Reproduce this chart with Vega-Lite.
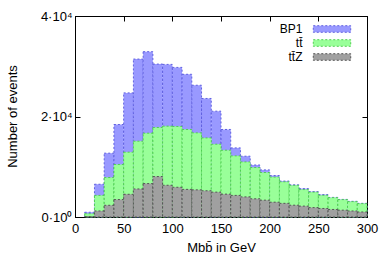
{
  "$schema": "https://vega.github.io/schema/vega-lite/v6.json",
  "width": 292,
  "height": 201,
  "autosize": {"type": "none"},
  "padding": {"left": 75, "top": 16, "right": 25, "bottom": 57},
  "config": {
    "font": "Liberation Sans",
    "view": {"stroke": "black", "strokeWidth": 1},
    "axis": {
      "grid": false,
      "domainColor": "black",
      "tickColor": "black",
      "labelColor": "black",
      "titleColor": "black",
      "labelFontSize": 13,
      "titleFontSize": 13,
      "titleFontWeight": "normal",
      "labelFlush": false,
      "tickSize": -5
    }
  },
  "data": {"values": [
    {"s":"BP1","lo":10,"hi":20,"n":940},{"s":"BP1","lo":20,"hi":30,"n":6520},{"s":"BP1","lo":30,"hi":40,"n":12700},{"s":"BP1","lo":40,"hi":50,"n":18400},{"s":"BP1","lo":50,"hi":60,"n":24700},{"s":"BP1","lo":60,"hi":70,"n":31430},{"s":"BP1","lo":70,"hi":80,"n":32900},{"s":"BP1","lo":80,"hi":90,"n":30430},{"s":"BP1","lo":90,"hi":100,"n":30370},{"s":"BP1","lo":100,"hi":110,"n":29770},{"s":"BP1","lo":110,"hi":120,"n":28400},{"s":"BP1","lo":120,"hi":130,"n":26220},{"s":"BP1","lo":130,"hi":140,"n":23590},{"s":"BP1","lo":140,"hi":150,"n":21060},{"s":"BP1","lo":150,"hi":160,"n":17420},{"s":"BP1","lo":160,"hi":170,"n":13750},{"s":"BP1","lo":170,"hi":180,"n":12100},{"s":"BP1","lo":180,"hi":190,"n":10350},{"s":"BP1","lo":190,"hi":200,"n":9370},{"s":"BP1","lo":200,"hi":210,"n":8250},{"s":"BP1","lo":210,"hi":220,"n":7150},{"s":"BP1","lo":220,"hi":230,"n":6400},{"s":"BP1","lo":230,"hi":240,"n":5650},{"s":"BP1","lo":240,"hi":250,"n":5050},{"s":"BP1","lo":250,"hi":260,"n":4460},{"s":"BP1","lo":260,"hi":270,"n":3900},{"s":"BP1","lo":270,"hi":280,"n":3500},{"s":"BP1","lo":280,"hi":290,"n":3120},{"s":"BP1","lo":290,"hi":300,"n":2720},
    {"s":"tt̄","lo":10,"hi":20,"n":650},{"s":"tt̄","lo":20,"hi":30,"n":4300},{"s":"tt̄","lo":30,"hi":40,"n":7850},{"s":"tt̄","lo":40,"hi":50,"n":10440},{"s":"tt̄","lo":50,"hi":60,"n":12900},{"s":"tt̄","lo":60,"hi":70,"n":15090},{"s":"tt̄","lo":70,"hi":80,"n":16680},{"s":"tt̄","lo":80,"hi":90,"n":17820},{"s":"tt̄","lo":90,"hi":100,"n":18080},{"s":"tt̄","lo":100,"hi":110,"n":18020},{"s":"tt̄","lo":110,"hi":120,"n":17420},{"s":"tt̄","lo":120,"hi":130,"n":16740},{"s":"tt̄","lo":130,"hi":140,"n":15740},{"s":"tt̄","lo":140,"hi":150,"n":14490},{"s":"tt̄","lo":150,"hi":160,"n":13290},{"s":"tt̄","lo":160,"hi":170,"n":12160},{"s":"tt̄","lo":170,"hi":180,"n":10960},{"s":"tt̄","lo":180,"hi":190,"n":9840},{"s":"tt̄","lo":190,"hi":200,"n":8850},{"s":"tt̄","lo":200,"hi":210,"n":7950},{"s":"tt̄","lo":210,"hi":220,"n":7000},{"s":"tt̄","lo":220,"hi":230,"n":6300},{"s":"tt̄","lo":230,"hi":240,"n":5460},{"s":"tt̄","lo":240,"hi":250,"n":4950},{"s":"tt̄","lo":250,"hi":260,"n":4320},{"s":"tt̄","lo":260,"hi":270,"n":3850},{"s":"tt̄","lo":270,"hi":280,"n":3460},{"s":"tt̄","lo":280,"hi":290,"n":3060},{"s":"tt̄","lo":290,"hi":300,"n":2660},
    {"s":"tt̄Z","lo":10,"hi":20,"n":80},{"s":"tt̄Z","lo":20,"hi":30,"n":1200},{"s":"tt̄Z","lo":30,"hi":40,"n":2330},{"s":"tt̄Z","lo":40,"hi":50,"n":3470},{"s":"tt̄Z","lo":50,"hi":60,"n":4520},{"s":"tt̄Z","lo":60,"hi":70,"n":5580},{"s":"tt̄Z","lo":70,"hi":80,"n":6650},{"s":"tt̄Z","lo":80,"hi":90,"n":8050},{"s":"tt̄Z","lo":90,"hi":100,"n":6320},{"s":"tt̄Z","lo":100,"hi":110,"n":5920},{"s":"tt̄Z","lo":110,"hi":120,"n":5500},{"s":"tt̄Z","lo":120,"hi":130,"n":5400},{"s":"tt̄Z","lo":130,"hi":140,"n":5220},{"s":"tt̄Z","lo":140,"hi":150,"n":4950},{"s":"tt̄Z","lo":150,"hi":160,"n":4550},{"s":"tt̄Z","lo":160,"hi":170,"n":4300},{"s":"tt̄Z","lo":170,"hi":180,"n":4000},{"s":"tt̄Z","lo":180,"hi":190,"n":3620},{"s":"tt̄Z","lo":190,"hi":200,"n":3350},{"s":"tt̄Z","lo":200,"hi":210,"n":2950},{"s":"tt̄Z","lo":210,"hi":220,"n":2720},{"s":"tt̄Z","lo":220,"hi":230,"n":2350},{"s":"tt̄Z","lo":230,"hi":240,"n":2170},{"s":"tt̄Z","lo":240,"hi":250,"n":1870},{"s":"tt̄Z","lo":250,"hi":260,"n":1700},{"s":"tt̄Z","lo":260,"hi":270,"n":1500},{"s":"tt̄Z","lo":270,"hi":280,"n":1360},{"s":"tt̄Z","lo":280,"hi":290,"n":1200},{"s":"tt̄Z","lo":290,"hi":300,"n":1000}
  ]},
  "layer": [
    {
      "mark": {"type": "rect", "strokeWidth": 1, "strokeDash": [2, 2], "opacity": 1},
      "encoding": {
        "x": {"field": "lo", "type": "quantitative",
              "scale": {"domain": [0, 300], "nice": false, "zero": false},
              "axis": {"orient": "bottom", "values": [0,50,100,150,200,250,300], "labelPadding": 10,
                       "title": "Mbb̄ in GeV", "titlePadding": 6}},
        "x2": {"field": "hi"},
        "y": {"field": "n", "type": "quantitative",
              "scale": {"domain": [0, 40000], "nice": false},
              "axis": {"orient": "left", "values": [0, 20000, 40000], "labelPadding": 8,
                       "labelExpr": "datum.value == 0 ? '0·10⁰' : (datum.value == 20000 ? '2·10⁴' : '4·10⁴')",
                       "title": "Number of events", "titleX": -63, "titleY": 100, "titleAlign": "center", "titleBaseline": "middle", "titleAngle": -90}},
        "y2": {"datum": 0},
        "color": {"field": "s", "type": "nominal",
                  "scale": {"domain": ["BP1", "tt̄", "tt̄Z"], "range": ["#9999ff", "#99ff99", "#a0a0a0"]},
                  "legend": {"orient": "none", "legendX": 251, "legendY": 7, "title": null,
                             "symbolType": "M-3.42,-0.6H3.42V0.6H-3.42Z", "symbolSize": 120,
                             "symbolStrokeWidth": 1, "symbolDash": [2, 2], "symbolOpacity": 1,
                             "labelAlign": "right", "labelOffset": -35.5, "rowPadding": 2, "padding": 0,
                             "labelFontSize": 12, "labelColor": "black"}},
        "stroke": {"field": "s", "type": "nominal",
                   "scale": {"domain": ["BP1", "tt̄", "tt̄Z"], "range": ["#6060e0", "#50d050", "#555555"]},
                   "legend": null}
      }
    },
    {
      "mark": {"type": "rect", "opacity": 0},
      "encoding": {
        "x": {"field": "lo", "type": "quantitative",
              "scale": {"domain": [0, 300], "nice": false, "zero": false},
              "axis": {"orient": "top", "values": [0,50,100,150,200,250,300], "labels": false, "title": null}},
        "x2": {"field": "hi"},
        "y": {"field": "n", "type": "quantitative",
              "scale": {"domain": [0, 40000], "nice": false},
              "axis": {"orient": "right", "values": [0, 20000, 40000], "labels": false, "title": null}},
        "y2": {"datum": 0}
      }
    }
  ],
  "resolve": {"axis": {"x": "independent", "y": "independent"}}
}
